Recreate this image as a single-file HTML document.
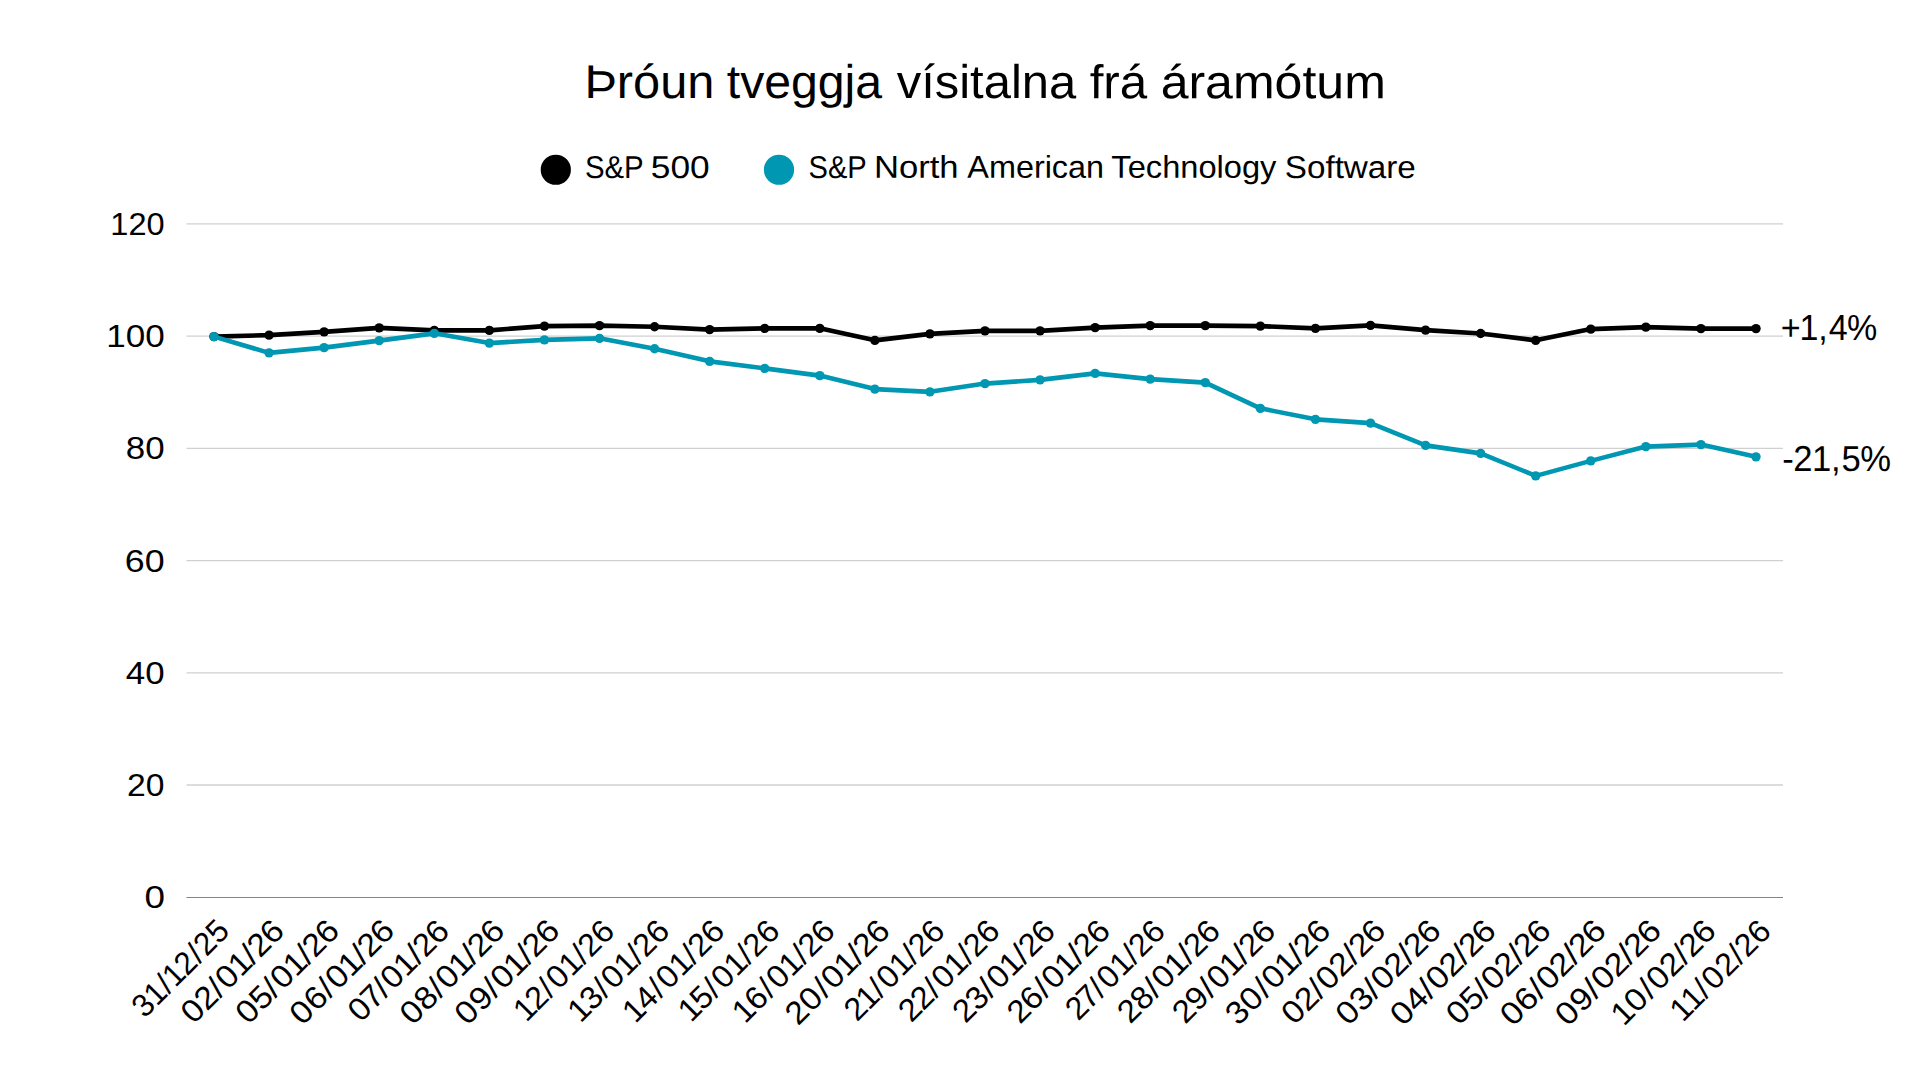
<!DOCTYPE html>
<html lang="is">
<head>
<meta charset="utf-8">
<title>Þróun tveggja vísitalna frá áramótum</title>
<style>html,body{margin:0;padding:0;background:#fff;}body{width:1920px;height:1080px;overflow:hidden;}svg{display:block;}text{font-family:"Liberation Sans", sans-serif;fill:#000;}</style>
</head>
<body>
<svg width="1920" height="1080" viewBox="0 0 1920 1080">
<rect width="1920" height="1080" fill="#fff"/>
<text transform="rotate(0.03 985.4 98.1)" y="98.10" font-size="47.24"><tspan x="584.40" textLength="129.94" lengthAdjust="spacingAndGlyphs">Þróun</tspan> <tspan x="726.78" textLength="155.30" lengthAdjust="spacingAndGlyphs">tveggja</tspan> <tspan x="896.76" textLength="179.42" lengthAdjust="spacingAndGlyphs">vísitalna</tspan> <tspan x="1089.66" textLength="57.54" lengthAdjust="spacingAndGlyphs">frá</tspan> <tspan x="1160.65" textLength="225.18" lengthAdjust="spacingAndGlyphs">áramótum</tspan></text>
<circle cx="555.8" cy="169.75" r="15.1" fill="#000"/>
<text transform="rotate(0.03 647.3 177.9)" y="177.90" font-size="31.54"><tspan x="584.94" textLength="58.24" lengthAdjust="spacingAndGlyphs">S&amp;P</tspan> <tspan x="650.89" textLength="58.87" lengthAdjust="spacingAndGlyphs">500</tspan></text>
<circle cx="779" cy="169.75" r="15.1" fill="#0097b2"/>
<text transform="rotate(0.03 1112.0 177.8)" y="177.80" font-size="31.54"><tspan x="808.50" textLength="57.67" lengthAdjust="spacingAndGlyphs">S&amp;P</tspan> <tspan x="873.93" textLength="84.63" lengthAdjust="spacingAndGlyphs">North</tspan> <tspan x="967.34" textLength="136.72" lengthAdjust="spacingAndGlyphs">American</tspan> <tspan x="1111.38" textLength="165.05" lengthAdjust="spacingAndGlyphs">Technology</tspan> <tspan x="1284.81" textLength="131.03" lengthAdjust="spacingAndGlyphs">Software</tspan></text>
<line x1="186.5" x2="1783" y1="223.85" y2="223.85" stroke="#d0d0d0" stroke-width="1.3"/>
<line x1="186.5" x2="1783" y1="336.08" y2="336.08" stroke="#d0d0d0" stroke-width="1.3"/>
<line x1="186.5" x2="1783" y1="448.32" y2="448.32" stroke="#d0d0d0" stroke-width="1.3"/>
<line x1="186.5" x2="1783" y1="560.55" y2="560.55" stroke="#d0d0d0" stroke-width="1.3"/>
<line x1="186.5" x2="1783" y1="672.78" y2="672.78" stroke="#d0d0d0" stroke-width="1.3"/>
<line x1="186.5" x2="1783" y1="785.02" y2="785.02" stroke="#d0d0d0" stroke-width="1.3"/>
<line x1="186.5" x2="1783" y1="897.45" y2="897.45" stroke="#858585" stroke-width="1.1"/>
<text transform="translate(110.36,234.85) scale(1.0176,1)" font-size="31.98">120</text>
<text transform="translate(106.22,347.08) scale(1.0971,1)" font-size="31.98">100</text>
<text transform="translate(125.73,459.32) scale(1.0930,1)" font-size="31.98">80</text>
<text transform="translate(124.81,571.55) scale(1.1197,1)" font-size="31.98">60</text>
<text transform="translate(125.83,683.78) scale(1.0901,1)" font-size="31.98">40</text>
<text transform="translate(127.12,796.02) scale(1.0526,1)" font-size="31.98">20</text>
<text transform="translate(144.53,908.25) scale(1.1522,1)" font-size="31.98">0</text>
<polyline points="214.00,336.60 269.07,335.10 324.14,331.85 379.21,327.85 434.29,330.35 489.36,330.35 544.43,326.10 599.50,325.60 654.57,326.75 709.64,329.60 764.71,328.35 819.79,328.35 874.86,340.35 929.93,333.85 985.00,330.85 1040.07,330.85 1095.14,327.60 1150.21,325.60 1205.29,325.60 1260.36,326.10 1315.43,328.35 1370.50,325.35 1425.57,330.10 1480.64,333.45 1535.71,340.35 1590.79,329.10 1645.86,327.10 1700.93,328.60 1756.00,328.60" fill="none" stroke="#000" stroke-width="4.6" stroke-linejoin="round" stroke-linecap="round"/>
<circle cx="214.00" cy="336.60" r="4.7" fill="#000"/>
<circle cx="269.07" cy="335.10" r="4.7" fill="#000"/>
<circle cx="324.14" cy="331.85" r="4.7" fill="#000"/>
<circle cx="379.21" cy="327.85" r="4.7" fill="#000"/>
<circle cx="434.29" cy="330.35" r="4.7" fill="#000"/>
<circle cx="489.36" cy="330.35" r="4.7" fill="#000"/>
<circle cx="544.43" cy="326.10" r="4.7" fill="#000"/>
<circle cx="599.50" cy="325.60" r="4.7" fill="#000"/>
<circle cx="654.57" cy="326.75" r="4.7" fill="#000"/>
<circle cx="709.64" cy="329.60" r="4.7" fill="#000"/>
<circle cx="764.71" cy="328.35" r="4.7" fill="#000"/>
<circle cx="819.79" cy="328.35" r="4.7" fill="#000"/>
<circle cx="874.86" cy="340.35" r="4.7" fill="#000"/>
<circle cx="929.93" cy="333.85" r="4.7" fill="#000"/>
<circle cx="985.00" cy="330.85" r="4.7" fill="#000"/>
<circle cx="1040.07" cy="330.85" r="4.7" fill="#000"/>
<circle cx="1095.14" cy="327.60" r="4.7" fill="#000"/>
<circle cx="1150.21" cy="325.60" r="4.7" fill="#000"/>
<circle cx="1205.29" cy="325.60" r="4.7" fill="#000"/>
<circle cx="1260.36" cy="326.10" r="4.7" fill="#000"/>
<circle cx="1315.43" cy="328.35" r="4.7" fill="#000"/>
<circle cx="1370.50" cy="325.35" r="4.7" fill="#000"/>
<circle cx="1425.57" cy="330.10" r="4.7" fill="#000"/>
<circle cx="1480.64" cy="333.45" r="4.7" fill="#000"/>
<circle cx="1535.71" cy="340.35" r="4.7" fill="#000"/>
<circle cx="1590.79" cy="329.10" r="4.7" fill="#000"/>
<circle cx="1645.86" cy="327.10" r="4.7" fill="#000"/>
<circle cx="1700.93" cy="328.60" r="4.7" fill="#000"/>
<circle cx="1756.00" cy="328.60" r="4.7" fill="#000"/>
<polyline points="214.00,336.60 269.07,352.85 324.14,347.60 379.21,340.60 434.29,333.35 489.36,343.10 544.43,339.85 599.50,338.35 654.57,348.75 709.64,361.35 764.71,368.35 819.79,375.60 874.86,389.10 929.93,391.85 985.00,383.60 1040.07,379.85 1095.14,373.35 1150.21,379.10 1205.29,382.60 1260.36,408.35 1315.43,419.35 1370.50,423.10 1425.57,445.35 1480.64,453.35 1535.71,475.85 1590.79,460.85 1645.86,446.60 1700.93,444.60 1756.00,456.85" fill="none" stroke="#0097b2" stroke-width="4.6" stroke-linejoin="round" stroke-linecap="round"/>
<circle cx="214.00" cy="336.60" r="4.7" fill="#0097b2"/>
<circle cx="269.07" cy="352.85" r="4.7" fill="#0097b2"/>
<circle cx="324.14" cy="347.60" r="4.7" fill="#0097b2"/>
<circle cx="379.21" cy="340.60" r="4.7" fill="#0097b2"/>
<circle cx="434.29" cy="333.35" r="4.7" fill="#0097b2"/>
<circle cx="489.36" cy="343.10" r="4.7" fill="#0097b2"/>
<circle cx="544.43" cy="339.85" r="4.7" fill="#0097b2"/>
<circle cx="599.50" cy="338.35" r="4.7" fill="#0097b2"/>
<circle cx="654.57" cy="348.75" r="4.7" fill="#0097b2"/>
<circle cx="709.64" cy="361.35" r="4.7" fill="#0097b2"/>
<circle cx="764.71" cy="368.35" r="4.7" fill="#0097b2"/>
<circle cx="819.79" cy="375.60" r="4.7" fill="#0097b2"/>
<circle cx="874.86" cy="389.10" r="4.7" fill="#0097b2"/>
<circle cx="929.93" cy="391.85" r="4.7" fill="#0097b2"/>
<circle cx="985.00" cy="383.60" r="4.7" fill="#0097b2"/>
<circle cx="1040.07" cy="379.85" r="4.7" fill="#0097b2"/>
<circle cx="1095.14" cy="373.35" r="4.7" fill="#0097b2"/>
<circle cx="1150.21" cy="379.10" r="4.7" fill="#0097b2"/>
<circle cx="1205.29" cy="382.60" r="4.7" fill="#0097b2"/>
<circle cx="1260.36" cy="408.35" r="4.7" fill="#0097b2"/>
<circle cx="1315.43" cy="419.35" r="4.7" fill="#0097b2"/>
<circle cx="1370.50" cy="423.10" r="4.7" fill="#0097b2"/>
<circle cx="1425.57" cy="445.35" r="4.7" fill="#0097b2"/>
<circle cx="1480.64" cy="453.35" r="4.7" fill="#0097b2"/>
<circle cx="1535.71" cy="475.85" r="4.7" fill="#0097b2"/>
<circle cx="1590.79" cy="460.85" r="4.7" fill="#0097b2"/>
<circle cx="1645.86" cy="446.60" r="4.7" fill="#0097b2"/>
<circle cx="1700.93" cy="444.60" r="4.7" fill="#0097b2"/>
<circle cx="1756.00" cy="456.85" r="4.7" fill="#0097b2"/>
<text transform="translate(1783.20,339.95) rotate(0.03) scale(0.9400,1)" font-size="36.19" x="-2.66 17.24 37.34 48.40 67.78">+1,4%</text>
<text transform="translate(1783.20,470.95) rotate(0.03) scale(0.9600,1)" font-size="36.05" x="-0.93 10.47 29.91 49.71 60.73 80.16">-21,5%</text>
<text transform="translate(229.10,934.6) rotate(-45) scale(0.9817,1)" font-size="31.98" x="-121.45 -104.29 -86.42 -77.45 -60.79 -42.26 -32.63 -15.06">31/12/25</text>
<text transform="translate(284.17,934.6) rotate(-45) scale(1.0580,1)" font-size="31.98" x="-120.94 -103.03 -85.52 -75.05 -57.76 -40.86 -32.24 -15.27">02/01/26</text>
<text transform="translate(339.24,934.6) rotate(-45) scale(1.0620,1)" font-size="31.98" x="-120.99 -102.91 -85.21 -74.80 -57.57 -40.72 -32.15 -15.25">05/01/26</text>
<text transform="translate(394.31,934.6) rotate(-45) scale(1.0733,1)" font-size="31.98" x="-121.12 -102.58 -84.36 -74.11 -57.06 -40.34 -31.91 -15.18">06/01/26</text>
<text transform="translate(449.39,934.6) rotate(-45) scale(1.0395,1)" font-size="31.98" x="-120.72 -103.60 -86.96 -76.23 -58.63 -41.50 -32.65 -15.39">07/01/26</text>
<text transform="translate(504.46,934.6) rotate(-45) scale(1.0701,1)" font-size="31.98" x="-121.08 -102.67 -84.60 -74.31 -57.21 -40.45 -31.98 -15.20">08/01/26</text>
<text transform="translate(559.53,934.6) rotate(-45) scale(1.0733,1)" font-size="31.98" x="-121.12 -102.58 -84.36 -74.11 -57.06 -40.34 -31.91 -15.18">09/01/26</text>
<text transform="translate(614.60,934.6) rotate(-45) scale(1.0162,1)" font-size="31.98" x="-122.99 -106.90 -88.85 -77.77 -59.77 -42.35 -33.20 -15.53">12/01/26</text>
<text transform="translate(669.67,934.6) rotate(-45) scale(1.0243,1)" font-size="31.98" x="-123.07 -106.62 -88.19 -77.23 -59.37 -42.06 -33.01 -15.48">13/01/26</text>
<text transform="translate(724.74,934.6) rotate(-45) scale(1.0291,1)" font-size="31.98" x="-123.12 -106.45 -87.79 -76.91 -59.13 -41.88 -32.89 -15.45">14/01/26</text>
<text transform="translate(779.81,934.6) rotate(-45) scale(1.0202,1)" font-size="31.98" x="-123.03 -106.76 -88.52 -77.50 -59.57 -42.20 -33.10 -15.51">15/01/26</text>
<text transform="translate(834.89,934.6) rotate(-45) scale(1.0315,1)" font-size="31.98" x="-123.14 -106.37 -87.60 -76.75 -59.01 -41.79 -32.84 -15.44">16/01/26</text>
<text transform="translate(889.96,934.6) rotate(-45) scale(1.0580,1)" font-size="31.98" x="-122.79 -104.87 -85.52 -75.05 -57.76 -40.86 -32.24 -15.27">20/01/26</text>
<text transform="translate(945.03,934.6) rotate(-45) scale(1.0162,1)" font-size="31.98" x="-122.35 -106.26 -88.85 -77.77 -59.77 -42.35 -33.20 -15.53">21/01/26</text>
<text transform="translate(1000.10,934.6) rotate(-45) scale(1.0267,1)" font-size="31.98" x="-122.46 -105.90 -87.99 -77.07 -59.25 -41.97 -32.95 -15.47">22/01/26</text>
<text transform="translate(1055.17,934.6) rotate(-45) scale(1.0347,1)" font-size="31.98" x="-122.55 -105.63 -87.34 -76.54 -58.86 -41.68 -32.76 -15.42">23/01/26</text>
<text transform="translate(1110.24,934.6) rotate(-45) scale(1.0419,1)" font-size="31.98" x="-122.62 -105.40 -86.77 -76.07 -58.51 -41.42 -32.60 -15.37">26/01/26</text>
<text transform="translate(1165.31,934.6) rotate(-45) scale(1.0082,1)" font-size="31.98" x="-122.26 -106.54 -89.52 -78.32 -60.17 -42.65 -33.39 -15.59">27/01/26</text>
<text transform="translate(1220.39,934.6) rotate(-45) scale(1.0387,1)" font-size="31.98" x="-122.59 -105.50 -87.02 -76.28 -58.66 -41.53 -32.67 -15.39">28/01/26</text>
<text transform="translate(1275.46,934.6) rotate(-45) scale(1.0419,1)" font-size="31.98" x="-122.62 -105.40 -86.77 -76.07 -58.51 -41.42 -32.60 -15.37">29/01/26</text>
<text transform="translate(1330.53,934.6) rotate(-45) scale(1.0660,1)" font-size="31.98" x="-122.40 -104.15 -84.90 -74.56 -57.39 -40.58 -32.06 -15.22">30/01/26</text>
<text transform="translate(1385.60,934.6) rotate(-45) scale(1.0684,1)" font-size="31.98" x="-121.06 -103.33 -85.94 -75.62 -57.89 -40.50 -32.01 -15.21">02/02/26</text>
<text transform="translate(1440.67,934.6) rotate(-45) scale(1.0765,1)" font-size="31.98" x="-121.16 -103.09 -85.33 -75.13 -57.52 -40.23 -31.84 -15.16">03/02/26</text>
<text transform="translate(1495.74,934.6) rotate(-45) scale(1.0813,1)" font-size="31.98" x="-121.21 -102.95 -84.97 -74.83 -57.31 -40.07 -31.74 -15.13">04/02/26</text>
<text transform="translate(1550.81,934.6) rotate(-45) scale(1.0725,1)" font-size="31.98" x="-121.11 -103.21 -85.63 -75.37 -57.71 -40.36 -31.92 -15.19">05/02/26</text>
<text transform="translate(1605.89,934.6) rotate(-45) scale(1.0837,1)" font-size="31.98" x="-121.24 -102.87 -84.79 -74.68 -57.20 -39.99 -31.68 -15.12">06/02/26</text>
<text transform="translate(1660.96,934.6) rotate(-45) scale(1.0837,1)" font-size="31.98" x="-121.24 -102.87 -84.79 -74.68 -57.20 -39.99 -31.68 -15.12">09/02/26</text>
<text transform="translate(1716.03,934.6) rotate(-45) scale(1.0580,1)" font-size="31.98" x="-123.40 -106.10 -86.74 -76.28 -58.37 -40.86 -32.24 -15.27">10/02/26</text>
<text transform="translate(1771.10,934.6) rotate(-45) scale(1.0162,1)" font-size="31.98" x="-122.99 -107.54 -90.13 -79.05 -60.41 -42.35 -33.20 -15.53">11/02/26</text>
</svg>
</body>
</html>
